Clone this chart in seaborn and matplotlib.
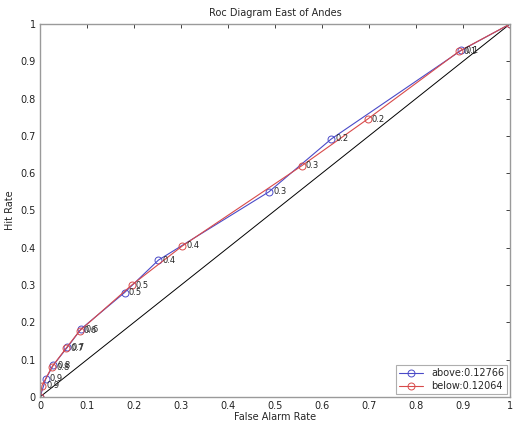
import matplotlib
matplotlib.use("Agg")
import matplotlib.pyplot as plt
import seaborn as sns
import pandas as pd

thresholds = [0.9, 0.8, 0.7, 0.6, 0.5, 0.4, 0.3, 0.2, 0.1]
above_far = [0.0, 0.012, 0.028, 0.058, 0.087, 0.180, 0.252, 0.487, 0.620, 0.897, 1.0]
above_hr = [0.0, 0.048, 0.085, 0.133, 0.182, 0.280, 0.367, 0.550, 0.692, 0.930, 1.0]
below_far = [0.0, 0.004, 0.025, 0.055, 0.084, 0.195, 0.303, 0.557, 0.697, 0.892, 1.0]
below_hr = [0.0, 0.030, 0.080, 0.130, 0.177, 0.300, 0.405, 0.620, 0.745, 0.927, 1.0]
labels = ["above:0.12766", "below:0.12064"]
colors = ["#4a4ac8", "#d84a4a"]

sns.set_style("white")
plt.rcParams["font.family"] = ["DejaVu Sans"]

fig = plt.figure(figsize=(5.14, 4.30), dpi=100)
ax = fig.add_axes([0.078, 0.077, 0.914, 0.867])

ax.plot([0, 1], [0, 1], color="black", lw=0.7)
series_lines = []
for far, hr, lab, col in [(above_far, above_hr, labels[0], colors[0]),
                          (below_far, below_hr, labels[1], colors[1])]:
    d = pd.DataFrame({"far": far, "hr": hr})
    sns.lineplot(data=d, x="far", y="hr", sort=False, estimator=None, color=col,
                 label=lab, marker="o", markersize=5, markerfacecolor="none",
                 markeredgecolor=col, markeredgewidth=0.7, lw=0.8, ax=ax)
    series_lines.append(ax.lines[-1])
    for t, x, y in zip(thresholds, far[1:-1], hr[1:-1]):
        ax.text(x + 0.009, y, f"{t:g}", fontsize=6, va="center", ha="left")

for ln in series_lines:
    ln.set_markeredgecolor(ln.get_color())
    ln.set_markerfacecolor("none")

ax.set_xlim(0, 1)
ax.set_ylim(0, 1)
ax.set_xticks([i / 10 for i in range(11)])
ax.set_yticks([i / 10 for i in range(11)])
ax.set_xticklabels(["0", "0.1", "0.2", "0.3", "0.4", "0.5", "0.6", "0.7", "0.8", "0.9", "1"])
ax.set_yticklabels(["0", "0.1", "0.2", "0.3", "0.4", "0.5", "0.6", "0.7", "0.8", "0.9", "1"])
ax.tick_params(direction="in", length=3, labelsize=7, colors="#222222", width=0.6,
               top=True, right=True, pad=3)
for s in ax.spines.values():
    s.set_color("#9a9a9a")
    s.set_linewidth(1.0)
ax.set_xlabel("False Alarm Rate", fontsize=7, labelpad=1)
ax.set_ylabel("Hit Rate", fontsize=7, labelpad=4)
ax.set_title("Roc Diagram East of Andes", fontsize=7, pad=6)

leg = ax.legend(handles=series_lines, labels=labels, loc="lower right", fontsize=7,
                frameon=True, fancybox=False, edgecolor="#9a9a9a", handlelength=2.5,
                borderpad=0.3, labelspacing=0.3, borderaxespad=0.3)
leg.get_frame().set_linewidth(0.8)

fig.savefig("out.png", dpi=100)
